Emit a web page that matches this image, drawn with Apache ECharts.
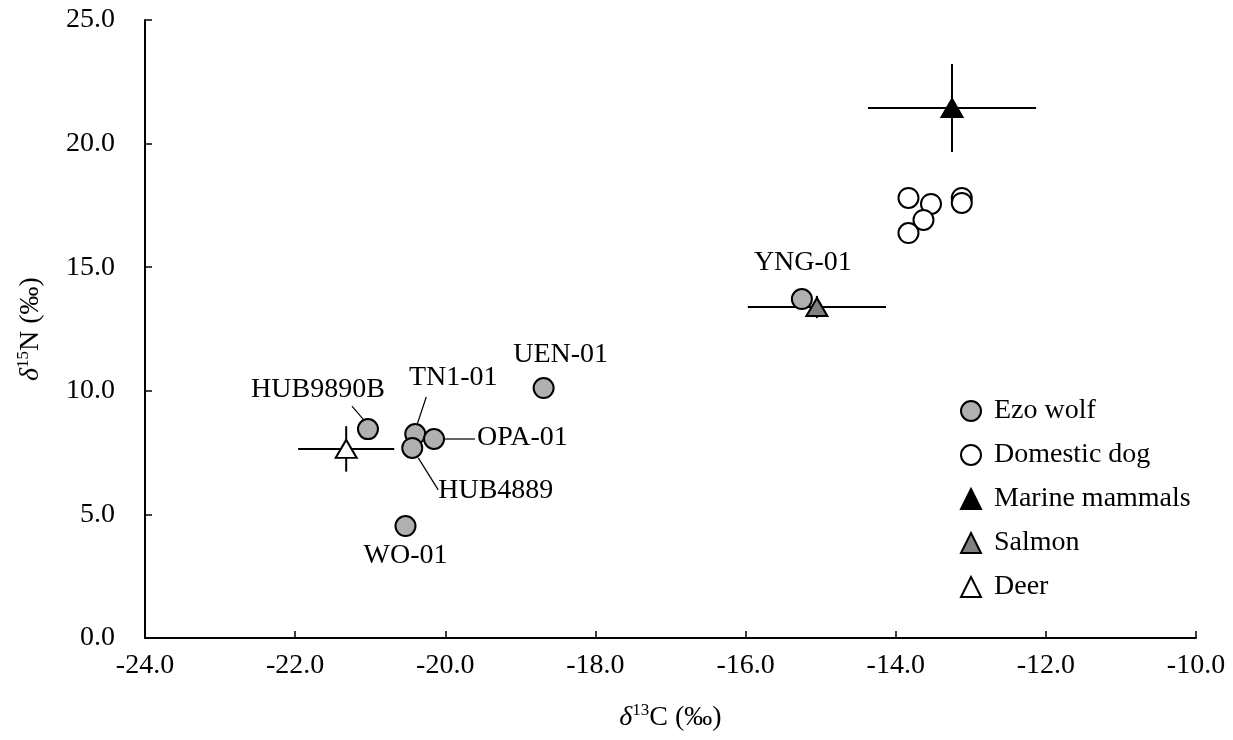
<!DOCTYPE html>
<html>
<head>
<meta charset="utf-8">
<script src="https://cdn.jsdelivr.net/npm/echarts@6/dist/echarts.min.js"></script>
<style>html,body{margin:0;padding:0;background:#fff}#c{width:1233px;height:740px}</style>
</head>
<body>
<div id="c"></div>
<script>
// ---- data ----
const wolfNames = ['HUB9890B', 'TN1-01', 'OPA-01', 'HUB4889', 'UEN-01', 'WO-01', 'YNG-01'];
const wolfC = [-21.03, -20.40, -20.15, -20.44, -18.69, -20.53, -15.25];
const wolfN = [8.45, 8.25, 8.05, 7.69, 10.11, 4.53, 13.71];
const dogC = [-13.83, -13.53, -13.63, -13.83, -13.12, -13.12];
const dogN = [17.80, 17.56, 16.91, 16.38, 17.80, 17.60];
// reference sources: mean C, mean N, sd C, sd N
const marineMean = [-13.25, 21.44];
const marineSD = [1.12, 1.78];
const salmonMean = [-15.05, 13.39];
const salmonSD = [0.92, 0.45];
const deerMean = [-21.32, 7.65];
const deerSD = [0.64, 0.92];
const xTicks = [-24, -22, -20, -18, -16, -14, -12, -10];
const yTicks = [0, 5, 10, 15, 20, 25];

// ---- label placement (pixel offsets from point; style only) ----
const labelLayout = {
  'HUB9890B': {dx: -50, dy: -39, align: 'center', line: [-16, -23, -4, -9]},
  'TN1-01':   {dx: 38, dy: -56, align: 'center', line: [11, -37, 2, -10]},
  'OPA-01':   {dx: 43, dy: -1, align: 'left', line: [10, 0, 41, 0]},
  'HUB4889':  {dx: 26, dy: 43, align: 'left', line: [6, 10, 26, 42]},
  'UEN-01':   {dx: 17, dy: -33, align: 'center', line: null},
  'WO-01':    {dx: 0, dy: 30, align: 'center', line: null},
  'YNG-01':   {dx: 1, dy: -36, align: 'center', line: null}
};

const FONT = 'Liberation Serif';
const FS = 28;

const chart = echarts.init(document.getElementById('c'), null, {renderer: 'canvas'});

const errData = [
  [marineMean[0], marineMean[1], marineSD[0], marineSD[1]],
  [salmonMean[0], salmonMean[1], salmonSD[0], salmonSD[1]],
  [deerMean[0], deerMean[1], deerSD[0], deerSD[1]]
];

const axisTitleRich = {
  d: {fontFamily: FONT, fontSize: FS, fontStyle: 'italic', color: '#000', lineHeight: 32, verticalAlign: 'bottom'},
  s: {fontFamily: FONT, fontSize: 17, color: '#000', lineHeight: 32, verticalAlign: 'top', padding: [2, 0, 0, 0]},
  t: {fontFamily: FONT, fontSize: FS, color: '#000', lineHeight: 32, verticalAlign: 'bottom'}
};

const option = {
  animation: false,
  backgroundColor: '#fff',
  grid: {left: 145, right: 37, top: 20, bottom: 102},
  legend: {
    orient: 'vertical',
    left: 955,
    top: 392,
    itemWidth: 20,
    itemHeight: 20,
    itemGap: 16,
    data: ['Ezo wolf', 'Domestic dog', 'Marine mammals', 'Salmon', 'Deer'],
    textStyle: {fontFamily: FONT, fontSize: FS, color: '#000', padding: [0, 0, 0, 8], lineHeight: 20}
  },
  xAxis: {
    type: 'value', min: xTicks[0], max: xTicks[xTicks.length - 1], interval: 2,
    axisLine: {lineStyle: {color: '#000', width: 2}},
    axisTick: {inside: true, length: 7, lineStyle: {color: '#000', width: 1.5}},
    splitLine: {show: false},
    axisLabel: {fontFamily: FONT, fontSize: FS, color: '#000', margin: 14, formatter: v => v.toFixed(1)},
    name: '{d|δ}{s|13}{t|C (‰)}',
    nameLocation: 'middle', nameGap: 62,
    nameTextStyle: {rich: axisTitleRich}
  },
  yAxis: {
    type: 'value', min: yTicks[0], max: yTicks[yTicks.length - 1], interval: 5,
    axisLine: {lineStyle: {color: '#000', width: 2}},
    axisTick: {inside: true, length: 7, lineStyle: {color: '#000', width: 1.5}},
    splitLine: {show: false},
    axisLabel: {fontFamily: FONT, fontSize: FS, color: '#000', margin: 30, formatter: v => v.toFixed(1)},
    name: '{d|δ}{s|15}{t|N (‰)}',
    nameLocation: 'middle', nameGap: 100, nameRotate: 90,
    nameTextStyle: {rich: axisTitleRich}
  },
  series: [
    {
      type: 'custom', name: 'errbars', z: 1, silent: true,
      data: errData,
      encode: {x: 0, y: 1},
      renderItem: function (params, api) {
        const x = api.value(0), y = api.value(1), sx = api.value(2), sy = api.value(3);
        const l = api.coord([x - sx, y]), r = api.coord([x + sx, y]);
        const t = api.coord([x, y + sy]), b = api.coord([x, y - sy]);
        const st = {stroke: '#000', lineWidth: 2};
        return {type: 'group', children: [
          {type: 'line', shape: {x1: l[0], y1: l[1], x2: r[0], y2: r[1]}, style: st},
          {type: 'line', shape: {x1: t[0], y1: t[1], x2: b[0], y2: b[1]}, style: st}
        ]};
      }
    },
    {
      type: 'scatter', name: 'Ezo wolf', z: 3,
      symbol: 'circle', symbolSize: 20,
      itemStyle: {color: '#b2afaf', borderColor: '#000', borderWidth: 2, opacity: 1},
      data: wolfC.map((c, i) => [c, wolfN[i]])
    },
    {
      type: 'scatter', name: 'Domestic dog', z: 3,
      symbol: 'circle', symbolSize: 20,
      itemStyle: {color: '#fff', borderColor: '#000', borderWidth: 2, opacity: 1},
      data: dogC.map((c, i) => [c, dogN[i]])
    },
    {
      type: 'scatter', name: 'Marine mammals', z: 4,
      symbol: 'triangle', symbolSize: [21, 18],
      itemStyle: {color: '#000', borderColor: '#000', borderWidth: 2, opacity: 1},
      data: [marineMean]
    },
    {
      type: 'scatter', name: 'Salmon', z: 4,
      symbol: 'triangle', symbolSize: [21, 18],
      itemStyle: {color: '#808080', borderColor: '#000', borderWidth: 2, opacity: 1},
      data: [salmonMean]
    },
    {
      type: 'scatter', name: 'Deer', z: 4,
      symbol: 'triangle', symbolSize: [21, 18],
      itemStyle: {color: '#fff', borderColor: '#000', borderWidth: 2, opacity: 1},
      data: [deerMean]
    },
    {
      type: 'custom', name: 'labels', z: 5, silent: true,
      data: wolfC.map((c, i) => [c, wolfN[i], i]),
      encode: {x: 0, y: 1},
      renderItem: function (params, api) {
        const p = api.coord([api.value(0), api.value(1)]);
        const name = wolfNames[api.value(2)];
        const L = labelLayout[name];
        const children = [{
          type: 'text',
          style: {text: name, x: p[0] + L.dx, y: p[1] + L.dy, align: L.align, verticalAlign: 'middle',
                  font: FS + 'px "' + FONT + '"', fill: '#000'}
        }];
        if (L.line) {
          children.push({type: 'line', shape: {x1: p[0] + L.line[0], y1: p[1] + L.line[1], x2: p[0] + L.line[2], y2: p[1] + L.line[3]},
                         style: {stroke: '#000', lineWidth: 1.2}});
        }
        return {type: 'group', children: children};
      }
    }
  ]
};
chart.setOption(option);
</script>
</body>
</html>
